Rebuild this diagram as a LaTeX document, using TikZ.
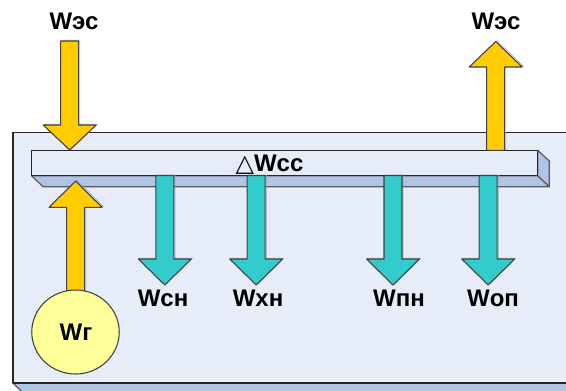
\documentclass[tikz,border=0pt]{standalone}
\usepackage{fontspec}
\usetikzlibrary{shapes.geometric}
\setmainfont{Liberation Sans}
\newfontfamily\symfont{DejaVu Sans}
\definecolor{plate}{HTML}{E7EDF8}
\definecolor{under}{HTML}{B0C4E4}
\definecolor{amber}{HTML}{FFCC00}
\definecolor{teal2}{HTML}{33CCCC}
\definecolor{lemon}{HTML}{FFFF99}
% block arrow: style, centre x, tail y, head base y, tip y
\newcommand{\blockarrow}[5]{
  \draw[#1] (#2-9,#3) -- (#2-9,#4) -- (#2-26.5,#4) -- (#2,#5) -- (#2+26.5,#4) -- (#2+9,#4) -- (#2+9,#3) -- cycle;
}
\tikzset{
  face/.style={draw=black!85,line width=0.9pt,line join=round},
  side/.style={draw=black!65,fill=under,line width=0.9pt,line join=round},
  halo/.style={preaction={draw=black!35,transform canvas={shift={(0.9pt,0.6pt)}}}},
  supply/.style={halo,draw=black!75,fill=amber,line width=0.8pt,line join=round},
  load/.style={halo,draw=black!75,fill=teal2,line width=0.8pt,line join=round},
  lbl/.style={font=\bfseries\fontsize{18}{20}\selectfont,inner sep=0pt}
}
\begin{document}
\begin{tikzpicture}[x=0.75pt,y=-0.75pt]
        \useasboundingbox (0,0) rectangle (566,391);
        \clip (0,0) rectangle (566,391);
        % outer plate
        \draw[side] (13,383) -- (24,394) -- (580,394) -- (580,383) -- cycle;
        \draw[face,fill=plate] (13,132.5) rectangle (580,383);
        % bus bar
        \draw[side] (31.5,175.7) -- (43,186.7) -- (549.3,186.7) -- (537.7,175.7) -- cycle;
        \draw[side] (537.7,150.3) -- (549.3,161) -- (549.3,186.7) -- (537.7,175.7) -- cycle;
        \draw[face,fill=plate] (31.5,150.3) rectangle (537.7,175.7);
        % arrows
        \blockarrow{supply}{69.7}{41}{125}{150}
        \blockarrow{supply}{75.6}{291}{207.3}{181}
        \blockarrow{supply}{495.7}{150.3}{67}{41.5}
        \blockarrow{load}{164.8}{175.7}{259}{285}
        \blockarrow{load}{256.2}{175.7}{259}{285}
        \blockarrow{load}{393}{175.7}{259}{285}
        \blockarrow{load}{488.2}{175.7}{259}{285}
        \node[draw=black!75,line width=0.8pt,fill=lemon,ellipse,minimum width=65.6pt,minimum height=63pt,inner sep=0pt] (gen) at (75.5,332) {};
        \node[lbl] (wg) at (76,332) {Wг};
        % labels
        \node[lbl] (wes1) at (74,21) {Wэс};
        \node[lbl] (wes2) at (496,21.5) {Wэс};
        \node[lbl] (wcc) at (269.5,165) {{\symfont\mdseries△}Wсс};
        \node[lbl] (wsn) at (163,298) {Wсн};
        \node[lbl] (wxn) at (258,298) {Wхн};
        \node[lbl] (wpn) at (399,298) {Wпн};
        \node[lbl] (wop) at (493,298) {Wоп};
\end{tikzpicture}
\end{document}
